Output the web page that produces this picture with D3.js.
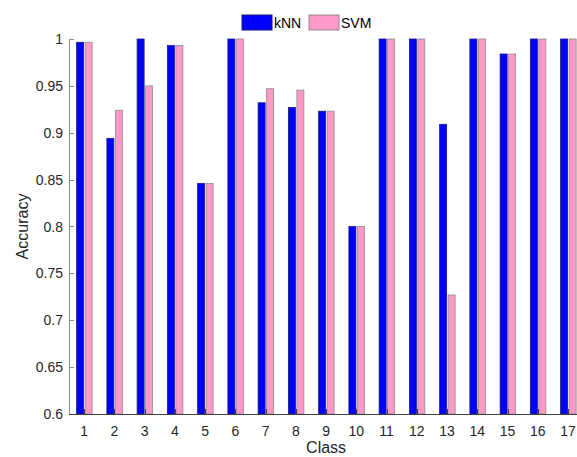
<!DOCTYPE html>
<html lang="en">
<head>
<meta charset="UTF-8">
<title>kNN vs SVM accuracy</title>
<style>
  body { margin: 0; background: #fff; }
  text { font-family: Arial, "Liberation Sans", sans-serif; }
</style>
</head>
<body>
<div id="chart"></div>
<script src="https://d3js.org/d3.v7.min.js"></script>
<script>
// data
var classes = [1, 2, 3, 4, 5, 6, 7, 8, 9, 10, 11, 12, 13, 14, 15, 16, 17];
var knnAcc = [0.9965, 0.894, 1, 0.993, 0.846, 1, 0.932, 0.927, 0.923, 0.80, 1, 1, 0.909, 1, 0.984, 1, 1];
var svmAcc = [0.9965, 0.924, 0.950, 0.993, 0.846, 1, 0.947, 0.9455, 0.923, 0.80, 1, 1, 0.727, 1, 0.984, 1, 1];
var seriesNames = ["kNN", "SVM"];
var yTicks = [0.6, 0.65, 0.7, 0.75, 0.8, 0.85, 0.9, 0.95, 1];

var W = 577, H = 457;
var plotLeft = 69, plotTop = 39, plotBottom = 414;
var svg = d3.select("#chart").append("svg")
    .attr("width", W).attr("height", H);

// x runs 0.5 .. 17.5, the right part is cut off by the window
var x = d3.scaleLinear().domain([0.5, 17.5]).range([plotLeft, plotLeft + 17 * 30.25]);
var y = d3.scaleLinear().domain([0.6, 1]).range([plotBottom, plotTop]);

var barW = 7;
var colors = ["#0000ff", "#ff99c9"];
var strokes = ["#1a1a80", "#8c8c8c"];

// bars
[knnAcc, svmAcc].forEach(function(vals, s) {
    svg.append("g").selectAll("rect")
        .data(vals)
        .enter().append("rect")
        .attr("x", function(d, i) { return s === 0 ? x(classes[i]) - barW - 0.5 : x(classes[i]) + 1; })
        .attr("y", function(d) { return y(d); })
        .attr("width", barW)
        .attr("height", function(d) { return y(0.6) - y(d); })
        .attr("fill", colors[s])
        .attr("stroke", strokes[s])
        .attr("stroke-width", 0.8);
});

// y axis
var yAxis = svg.append("g");
yAxis.append("line")
    .attr("x1", plotLeft + 0.5).attr("x2", plotLeft + 0.5)
    .attr("y1", plotTop).attr("y2", plotBottom)
    .attr("stroke", "#8c8c8c");
yAxis.selectAll(".tk").data(yTicks).enter().append("line")
    .attr("x1", plotLeft).attr("x2", plotLeft + 5)
    .attr("y1", function(d) { return Math.round(y(d)) + 0.5; })
    .attr("y2", function(d) { return Math.round(y(d)) + 0.5; })
    .attr("stroke", "#8c8c8c");
yAxis.selectAll(".lb").data(yTicks).enter().append("text")
    .attr("x", plotLeft - 6)
    .attr("y", function(d) { return y(d) + 5; })
    .attr("text-anchor", "end")
    .attr("font-size", "14px")
    .attr("fill", "#262626")
    .text(function(d) { return d3.format("")(d); });

// x axis
var xAxis = svg.append("g");
xAxis.append("line")
    .attr("x1", plotLeft).attr("x2", W)
    .attr("y1", plotBottom + 0.5).attr("y2", plotBottom + 0.5)
    .attr("stroke", "#404040");
xAxis.selectAll(".tk").data(classes).enter().append("line")
    .attr("x1", function(d) { return Math.round(x(d)) + 0.5; })
    .attr("x2", function(d) { return Math.round(x(d)) + 0.5; })
    .attr("y1", plotBottom).attr("y2", plotBottom - 5)
    .attr("stroke", "#404040");
xAxis.selectAll(".lb").data(classes).enter().append("text")
    .attr("x", function(d) { return x(d); })
    .attr("y", 436)
    .attr("text-anchor", "middle")
    .attr("font-size", "14px")
    .attr("fill", "#262626")
    .text(function(d) { return d; });

// axis titles
svg.append("text")
    .attr("x", (plotLeft + x(17.5)) / 2).attr("y", 453)
    .attr("text-anchor", "middle")
    .attr("font-size", "16px")
    .attr("fill", "#262626")
    .text("Class");
svg.append("text")
    .attr("transform", "translate(28," + ((plotTop + plotBottom) / 2) + ") rotate(-90)")
    .attr("text-anchor", "middle")
    .attr("font-size", "16px")
    .attr("fill", "#262626")
    .text("Accuracy");

// legend
var legX = [242, 309];
seriesNames.forEach(function(name, s) {
    svg.append("rect")
        .attr("x", legX[s]).attr("y", 15)
        .attr("width", 30).attr("height", 15)
        .attr("fill", colors[s])
        .attr("stroke", strokes[s]);
    svg.append("text")
        .attr("x", legX[s] + 32).attr("y", 28)
        .attr("font-size", "14px")
        .attr("fill", "#000")
        .text(name);
});
</script>
</body>
</html>
